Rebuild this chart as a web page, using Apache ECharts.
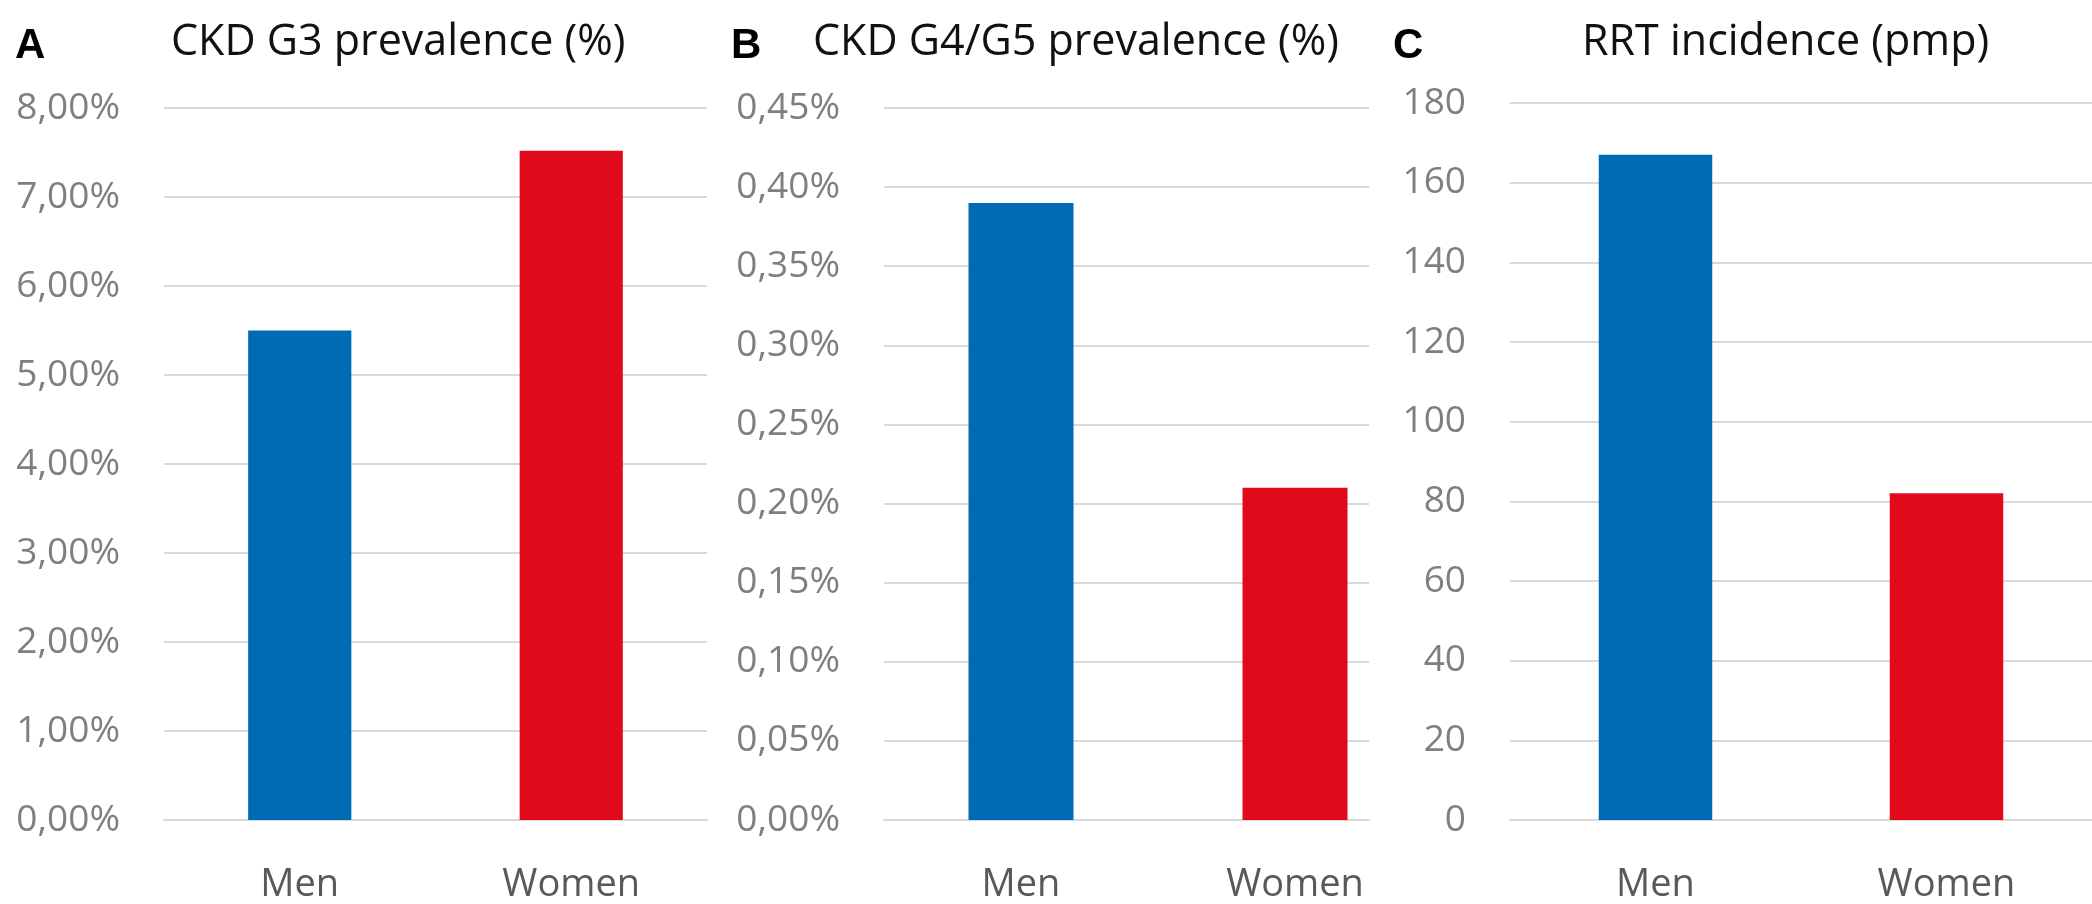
<!DOCTYPE html>
<html>
<head>
<meta charset="utf-8">
<script src="https://cdn.jsdelivr.net/npm/echarts@6/dist/echarts.min.js"></script>
<style>
html,body{margin:0;padding:0;background:#fff;}
#chart{width:2092px;height:904px;}
</style>
</head>
<body>
<div id="chart"></div>
<script>
// ---- data ----
const categories = ['Men', 'Women'];
const ckdG3Prevalence = [5.50, 7.52];     // %
const ckdG4G5Prevalence = [0.39, 0.21];  // %
const rrtIncidence = [167, 82];          // pmp
const panelLetters = ['A', 'B', 'C'];
const panelTitles = ['CKD G3 prevalence (%)', 'CKD G4/G5 prevalence (%)', 'RRT incidence (pmp)'];
const barColors = ['#006BB5', '#E10A1A'];

const FONT = "'Open Sans', 'Noto Sans', sans-serif";
const LETTER_FONT = "'Liberation Sans', Arial, sans-serif";
const gridColor = '#d9d9d9';
const pct = (v, d) => v.toFixed(d).replace('.', ',') + '%';

const chart = echarts.init(document.getElementById('chart'));

const commonY = {
  type: 'value',
  axisLine: {show: false},
  axisTick: {show: false},
  splitLine: {lineStyle: {color: gridColor, width: 2}},
  axisLabel: {color: '#7f7f7f', fontFamily: FONT, fontSize: 37, margin: 44}
};
const commonXLabel = {color: '#595959', fontFamily: FONT, fontSize: 38, margin: 46};

const colorFn = p => barColors[p.dataIndex];
const letterStyle = {fontFamily: LETTER_FONT, fontWeight: 'bold', fontSize: 42, color: '#000'};
const titleStyle = {fontFamily: FONT, fontWeight: 'normal', fontSize: 43, color: '#111'};

const option = {
  animation: false,
  title: [
    {text: panelLetters[0], left: 15, top: 25, padding: 0, textStyle: letterStyle},
    {text: panelLetters[1], left: 731, top: 25, padding: 0, textStyle: letterStyle},
    {text: panelLetters[2], left: 1393, top: 25, padding: 0, textStyle: letterStyle},
    {text: panelTitles[0], left: 171, top: 21, padding: 0, textStyle: titleStyle},
    {text: panelTitles[1], left: 813, top: 21, padding: 0, textStyle: titleStyle},
    {text: panelTitles[2], left: 1582, top: 21, padding: 0, textStyle: titleStyle}
  ],
  grid: [
    {left: 164, top: 108, width: 543, height: 719},
    {left: 884, top: 108, width: 485, height: 722},
    {left: 1510, top: 103, width: 582, height: 720}
  ],
  xAxis: [
    {type: 'category', gridIndex: 0, data: categories,
     axisLine: {lineStyle: {color: gridColor, width: 2}}, axisTick: {show: false}, axisLabel: commonXLabel},
    {type: 'value', gridIndex: 1, min: -0.5, max: 1.27, interval: 0.5,
     axisLine: {show: true, lineStyle: {color: gridColor, width: 2}}, axisTick: {show: false}, splitLine: {show: false},
     axisLabel: Object.assign({}, commonXLabel, {
       showMinLabel: true, showMaxLabel: true,
       formatter: v => {
         const r = Math.round(v);
         return Math.abs(v - r) < 1e-6 && categories[r] !== undefined ? categories[r] : '';
       }
     })},
    {type: 'category', gridIndex: 2, data: categories,
     axisLine: {lineStyle: {color: gridColor, width: 2}}, axisTick: {show: false}, axisLabel: commonXLabel}
  ],
  yAxis: [
    Object.assign({}, commonY, {gridIndex: 0, min: 0, max: 8, interval: 1,
      axisLabel: Object.assign({}, commonY.axisLabel, {formatter: v => pct(v, 2)})}),
    Object.assign({}, commonY, {gridIndex: 1, min: 0, max: 0.45, interval: 0.05,
      axisLabel: Object.assign({}, commonY.axisLabel, {formatter: v => pct(v, 2)})}),
    Object.assign({}, commonY, {gridIndex: 2, min: 0, max: 180, interval: 20,
      axisLabel: Object.assign({}, commonY.axisLabel, {formatter: v => String(v)})})
  ],
  series: [
    {type: 'bar', xAxisIndex: 0, yAxisIndex: 0, data: ckdG3Prevalence, barWidth: '38%',
     itemStyle: {color: colorFn}},
    {type: 'bar', xAxisIndex: 1, yAxisIndex: 1, data: ckdG4G5Prevalence.map((v, i) => [i, v]), barWidth: 105,
     itemStyle: {color: colorFn}},
    {type: 'bar', xAxisIndex: 2, yAxisIndex: 2, data: rrtIncidence, barWidth: '39%',
     itemStyle: {color: colorFn}}
  ]
};
chart.setOption(option);
</script>
</body>
</html>
